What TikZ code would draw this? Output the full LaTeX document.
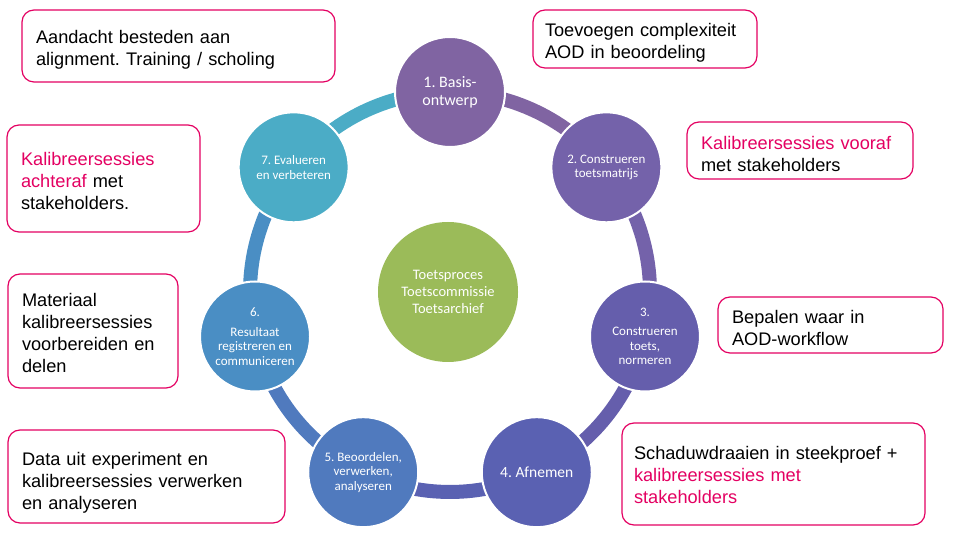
\documentclass[tikz,border=0pt]{standalone}
\usepackage{fontspec}
\setmainfont{Liberation Sans}
\newfontfamily\smartfont{Carlito}
\usepackage{tikz}
\usetikzlibrary{calc,backgrounds}
\usepackage{xcolor}
\definecolor{KalibPink}{RGB}{228,0,98}
\definecolor{StapA}{RGB}{128,100,162}
\definecolor{StapB}{RGB}{116,98,170}
\definecolor{StapC}{RGB}{101,94,172}
\definecolor{StapD}{RGB}{90,97,178}
\definecolor{StapE}{RGB}{80,122,190}
\definecolor{StapF}{RGB}{74,142,196}
\definecolor{StapG}{RGB}{75,172,198}
\definecolor{KernGroen}{RGB}{155,187,89}
\newcommand{\roze}[1]{\textcolor{KalibPink}{#1}}
\frenchspacing

\begin{document}
\begin{tikzpicture}[x=1pt,y=1pt,
  stap/.style={circle,draw=white,line width=2pt,minimum size=110pt,inner sep=0pt,
               align=center,text=white,font=\smartfont\fontsize{13}{14.5}\selectfont},
  ringarc/.style={line width=14pt},
  opmerking/.style={draw=KalibPink,line width=1.2pt,rounded corners=12pt,fill=white,
                    align=left,inner xsep=14pt,inner ysep=0pt,
                    font=\fontsize{18.2}{22}\selectfont,
                    execute at begin node={\rule{0pt}{#1}}},
  opmerking/.default=13.3pt,
]
\useasboundingbox (0,0) rectangle (960,540);
\coordinate (ring) at (450,248);

% cyclus
\node[circle,fill=KernGroen,minimum size=140pt,inner sep=0pt,text=white,align=center,
      font=\smartfont\fontsize{14.5}{17}\selectfont] (kern) at (448,248)
  {Toetsproces\\Toetscommissie\\Toetsarchief};

\node[stap,fill=StapA,font=\smartfont\fontsize{16}{18}\selectfont] (s1) at ($(ring)+(90:200)$)
  {1. Basis-\\ontwerp};
\node[stap,fill=StapB] (s2) at ($(ring)+(38.571:200)$)
  {2. Construeren\\toetsmatrijs};
\node[stap,fill=StapC] (s3) at ($(ring)+(-12.857:200)$)
  {3.\\[5pt]Construeren\\toets,\\normeren};
\node[stap,fill=StapD,font=\smartfont\fontsize{15.5}{18}\selectfont] (s4) at ($(ring)+(-64.286:200)$)
  {4. Afnemen};
\node[stap,fill=StapE] (s5) at ($(ring)+(-115.714:200)$)
  {5. Beoordelen,\\verwerken,\\analyseren};
\node[stap,fill=StapF] (s6) at ($(ring)+(-167.143:200)$)
  {6.\\[5pt]Resultaat\\registreren en\\communiceren};
\node[stap,fill=StapG] (s7) at ($(ring)+(141.429:200)$)
  {7. Evalueren\\en verbeteren};

\begin{scope}[on background layer]
  \draw[ringarc,StapA] (s1.center) arc[start angle=90,end angle=38.571,radius=200pt];
  \draw[ringarc,StapB] (s2.center) arc[start angle=38.571,end angle=-12.857,radius=200pt];
  \draw[ringarc,StapC] (s3.center) arc[start angle=-12.857,end angle=-64.286,radius=200pt];
  \draw[ringarc,StapD] (s4.center) arc[start angle=-64.286,end angle=-115.714,radius=200pt];
  \draw[ringarc,StapE] (s5.center) arc[start angle=-115.714,end angle=-167.143,radius=200pt];
  \draw[ringarc,StapF] (s6.center) arc[start angle=-167.143,end angle=-218.571,radius=200pt];
  \draw[ringarc,StapG] (s7.center) arc[start angle=141.429,end angle=90,radius=200pt];
\end{scope}

% opmerkingen
\node[opmerking=21.3pt,text width=285pt,minimum height=72pt] (alignment) at (178.5,494)
  {Aandacht besteden aan\\alignment. Training / scholing};
\node[opmerking=21.3pt,text width=200pt,inner xsep=12pt,minimum height=58pt] (complex) at (645,501)
  {Toevoegen complexiteit\\AOD in beoordeling};
\node[opmerking=19.3pt,text width=198pt,minimum height=57pt] (vooraf) at (800,389.5)
  {\roze{Kalibreersessies vooraf}\\met stakeholders};
\node[opmerking=17.3pt,text width=165pt,minimum height=107pt] (achteraf) at (103.5,361.5)
  {\roze{Kalibreersessies}\\\roze{achteraf} met\\stakeholders.};
\node[opmerking=16.3pt,text width=142pt,minimum height=114pt] (materiaal) at (93,209)
  {Materiaal\\kalibreersessies\\voorbereiden en\\delen};
\node[opmerking=19.3pt,text width=197pt,minimum height=56pt] (workflow) at (830.5,215)
  {Bepalen waar in\\AOD-workflow};
\node[opmerking=26.3pt,text width=249pt,minimum height=93pt] (data) at (146.5,63.5)
  {Data uit experiment en\\kalibreersessies verwerken\\en analyseren};
\node[opmerking=14.3pt,text width=279pt,inner xsep=12pt,minimum height=102pt] (schaduw) at (773.5,66)
  {Schaduwdraaien in steekproef +\\\roze{kalibreersessies met}\\\roze{stakeholders}};
\end{tikzpicture}
\end{document}
